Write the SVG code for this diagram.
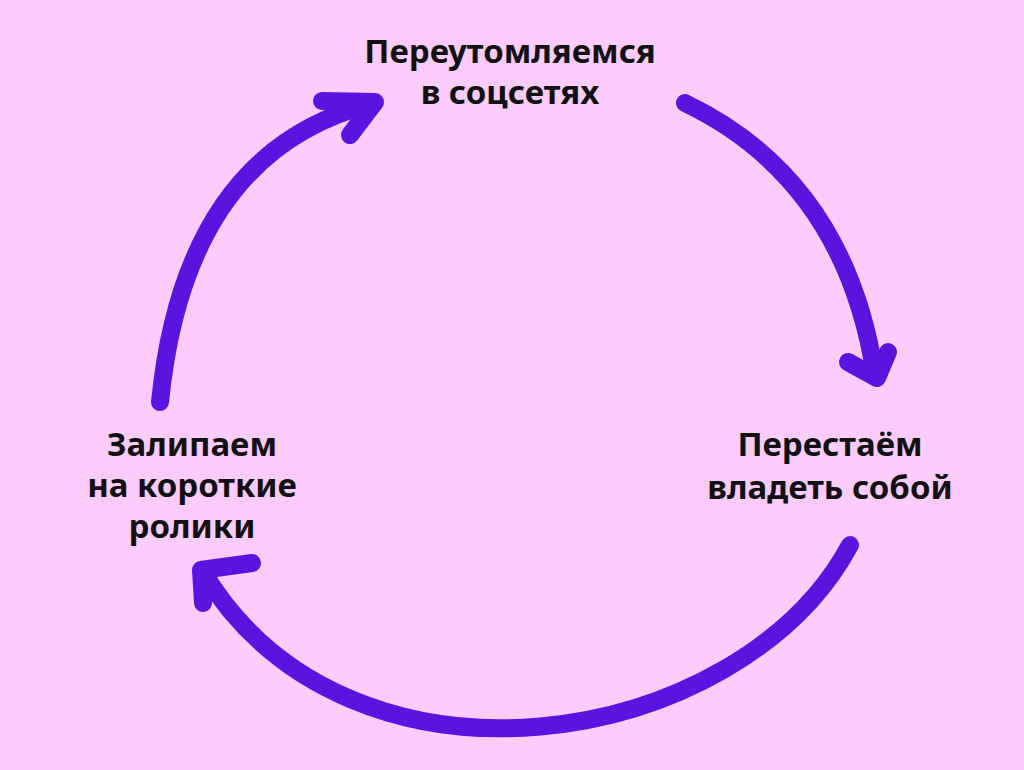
<svg xmlns="http://www.w3.org/2000/svg" width="1024" height="770" viewBox="0 0 1024 770">
<style>
.a{fill:none;stroke:#5A14E0;stroke-width:18;stroke-linecap:round;stroke-linejoin:round}
text{font-family:"Noto Sans","Open Sans",sans-serif;font-weight:bold;font-size:33px;fill:#111;text-anchor:middle}
</style>
<rect width="1024" height="770" fill="#FDCCFD"/>
<g id="n1"><text x="510" y="63">Переутомляемся</text><text x="510" y="104">в соцсетях</text></g>
<g id="n2"><text x="830" y="456">Перестаём</text><text x="830" y="499">владеть собой</text></g>
<g id="n3"><text x="192" y="456">Залипаем</text><text x="192" y="497">на короткие</text><text x="192" y="538">ролики</text></g>
<g id="connectors">
<path class="a" d="M685,103 Q845,180 875,375"/>
<path class="a" d="M848,362 L877,378 L888,352"/>
<path class="a" d="M850,545 C740,750 350,815 203,572"/>
<path class="a" d="M203,603 L201,570 L252,563"/>
<path class="a" d="M160,402 Q185,150 374,103"/>
<path class="a" d="M322,101 L375,102 L350,135"/>
</g>
</svg>
